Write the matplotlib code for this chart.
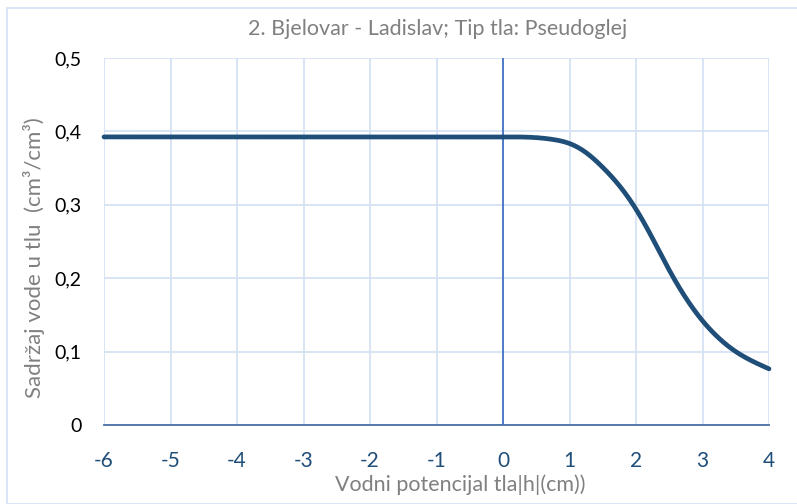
import matplotlib
matplotlib.use("Agg")
import matplotlib.pyplot as plt
from matplotlib.patches import Rectangle
from matplotlib.ticker import FuncFormatter
import numpy as np

plt.rcParams['font.family'] = ['Lato', 'DejaVu Sans']
plt.rcParams['axes.unicode_minus'] = False

title = "2. Bjelovar - Ladislav; Tip tla: Pseudoglej"
xlabel = "Vodni potencijal tla|h|(cm))"
ylabel = "Sadržaj vode u tlu  (cm³/cm³)"

x_vals = [-6, -5, -4, -3, -2, -1, 0, 0.5, 0.75, 1, 1.25, 1.5, 1.75, 2, 2.25, 2.5,
          2.75, 3, 3.25, 3.5, 3.75, 4]
y_vals = [0.3925, 0.3925, 0.3925, 0.3925, 0.3925, 0.3925, 0.3925, 0.3915, 0.389,
          0.3835, 0.371, 0.351, 0.326, 0.294, 0.254, 0.211, 0.173, 0.142,
          0.118, 0.100, 0.087, 0.0765]
x_ticks = [-6, -5, -4, -3, -2, -1, 0, 1, 2, 3, 4]
y_ticks = [0, 0.1, 0.2, 0.3, 0.4, 0.5]


def clamped_spline(xp, yp, xs, s0=0.0):
    """Cubic spline with first derivative s0 at the start, natural at the end."""
    xp = np.asarray(xp, float); yp = np.asarray(yp, float)
    n = len(xp)
    h = np.diff(xp)
    A = np.zeros((n, n)); b = np.zeros(n)
    A[0, 0] = 2*h[0]; A[0, 1] = h[0]
    b[0] = 6*((yp[1]-yp[0])/h[0] - s0)
    for i in range(1, n-1):
        A[i, i-1] = h[i-1]; A[i, i] = 2*(h[i-1]+h[i]); A[i, i+1] = h[i]
        b[i] = 6*((yp[i+1]-yp[i])/h[i] - (yp[i]-yp[i-1])/h[i-1])
    A[-1, -1] = 1.0
    M = np.linalg.solve(A, b)
    idx = np.clip(np.searchsorted(xp, xs)-1, 0, n-2)
    x0 = xp[idx]; x1 = xp[idx+1]; hh = h[idx]
    return (M[idx]*(x1-xs)**3/(6*hh) + M[idx+1]*(xs-x0)**3/(6*hh)
            + (yp[idx]/hh - M[idx]*hh/6)*(x1-xs) + (yp[idx+1]/hh - M[idx+1]*hh/6)*(xs-x0))


xa = np.array(x_vals, float); ya = np.array(y_vals, float)
flat = xa <= 0
curve = xa >= 0
xs = np.linspace(0, 4, 500)
ys = clamped_spline(xa[curve], ya[curve], xs)
x_line = np.concatenate([xa[flat][:-1], xs])
y_line = np.concatenate([ya[flat][:-1], ys])

W, H = 797, 504
fig = plt.figure(figsize=(W/100, H/100), dpi=100)
L, R, T, B = 104, 769, 58, 425
ax = fig.add_axes([L/W, 1-B/H, (R-L)/W, (B-T)/H])

ax.plot(x_line, y_line, color='#1f4e79', lw=3.4, solid_capstyle='round', zorder=4, clip_on=False)
ax.axvline(0, color='#4472c4', lw=1.3, zorder=3)

ax.set_xlim(-6, 4)
ax.set_ylim(0, 0.5)
ax.set_xticks(x_ticks)
ax.set_yticks(y_ticks)
ax.yaxis.set_major_formatter(FuncFormatter(lambda v, p: "0" if v == 0 else f"{v:.1f}".replace('.', ',')))
ax.grid(True, color='#d6e2f3', lw=1.3)
ax.set_axisbelow(True)
for s in ['top', 'right', 'left']:
    ax.spines[s].set_visible(False)
ax.spines['bottom'].set_color('#4a6fa5')
ax.spines['bottom'].set_linewidth(1.3)
ax.tick_params(axis='both', length=0)
ax.tick_params(axis='x', colors='#1f4e79', labelsize=15, pad=19)
ax.tick_params(axis='y', colors='black', labelsize=14, pad=16)

grey = '#808080'
fig.text(438/W, 1-35/H, title, color=grey, fontsize=15.5, ha='center', va='baseline')
fig.text(460/W, 1-491/H, xlabel, color=grey, fontsize=15.5, ha='center', va='baseline')
fig.text(34.5/W, 1-258/H, ylabel, color=grey, fontsize=16, ha='center', va='center',
         rotation=90)

fig.patches.append(Rectangle((7/W, 0.5/H), 1, 1-8/H-0.5/H, transform=fig.transFigure,
                             fill=False, edgecolor='#d6e2f3', lw=1.3))

fig.savefig('out.png', dpi=100)
